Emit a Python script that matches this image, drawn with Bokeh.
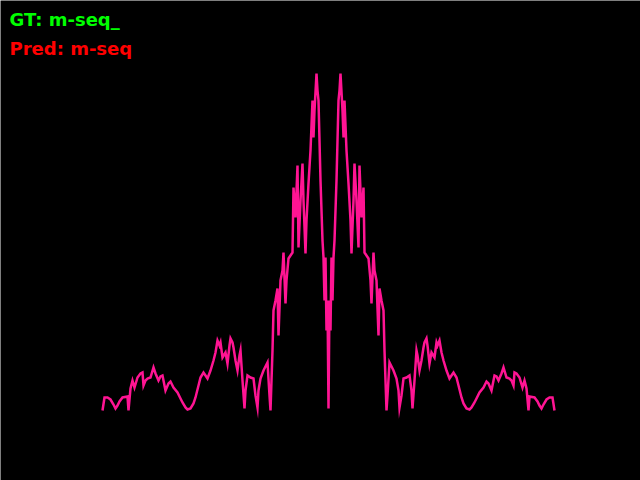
from bokeh.plotting import figure
from bokeh.models import Range1d, Label
from bokeh.embed import file_html
from bokeh.resources import INLINE

# frequency offset from centre (bins) and magnitude (arbitrary units)
freq = [-226, -224, -221, -218, -215, -213, -211, -209, -206, -201, -200, -198, -196, -194, -191, -188, -186, -185,
        -183, -181, -178, -175, -173, -170, -168, -166, -163, -160, -158, -155, -151, -148, -146, -143, -141, -138,
        -135, -133, -130, -128, -125, -123, -121, -118, -115, -113, -111, -109, -108, -106, -103, -101, -99, -98,
        -96, -95, -93, -91, -89, -88, -86, -84, -83, -81, -78, -75, -73, -71, -70, -68, -65, -61, -59, -58, -56,
        -55, -53, -51, -50, -48, -46, -45, -43, -42, -40, -38, -36, -35, -33, -31, -30, -28, -26, -25, -23, -22,
        -20, -18, -16, -15, -14, -12, -11, -10, -8, -6, -5, -4, -3, -2, -1, 0,
        1, 2, 3, 4, 5, 6, 8, 10, 11, 12, 14, 15, 16, 18, 20, 22, 23, 25, 26, 28, 30, 31, 33, 35, 36, 38, 40, 42,
        43, 45, 46, 48, 50, 51, 53, 55, 56, 58, 59, 61, 65, 68, 70, 71, 73, 75, 78, 81, 83, 84, 86, 88, 89, 91,
        93, 95, 96, 98, 99, 101, 103, 106, 108, 109, 111, 113, 115, 118, 121, 123, 125, 128, 130, 133, 135, 138,
        141, 143, 146, 148, 151, 155, 158, 160, 163, 166, 168, 170, 173, 175, 178, 181, 183, 185, 186, 188, 191,
        194, 196, 198, 200, 201, 206, 209, 211, 213, 215, 218, 221, 224, 226]
mag = [0, 13, 13, 11, 6, 2, 5, 9, 13, 14, 0, 22, 30, 23, 33, 37, 38, 25,
       30, 32, 33, 43, 37, 30, 34, 35, 20, 27, 29, 23, 18, 12, 8, 3, 1, 2,
       7, 13, 25, 33, 38, 35, 32, 40, 50, 58, 70, 65, 68, 53, 58, 47, 65, 72,
       68, 63, 50, 40, 55, 60, 30, 2, 20, 35, 33, 32, 15, 3, 20, 32, 40, 48, 15, 0, 60,
       100, 110, 122, 75, 130, 140, 158, 107, 130, 152, 155, 158, 223, 193, 245, 163, 210, 247, 210, 157, 190,
       227, 260, 310, 273, 300, 337, 320, 310, 230, 170, 153, 110, 153, 80, 110, 2,
       110, 80, 153, 110, 153, 170, 230, 310, 320, 337, 300, 273, 310, 260, 227, 190, 157, 210, 247, 210, 163, 245, 193, 223, 158, 155, 152, 130,
       107, 158, 140, 130, 75, 122, 110, 100, 60, 0, 15, 48, 40, 32, 20, 3, 15, 32, 33, 35, 20, 2, 30, 60, 55, 40,
       50, 63, 68, 72, 65, 47, 58, 53, 68, 65, 70, 58, 50, 40, 32, 35, 38, 33, 25, 13, 7, 2,
       1, 3, 8, 12, 18, 23, 29, 27, 20, 35, 34, 30, 37, 43, 33, 32, 30, 25, 38, 37, 33,
       23, 30, 22, 0, 14, 13, 9, 5, 2, 6, 11, 13, 13, 0]

gt_label = "GT: m-seq_"
pred_label = "Pred: m-seq"

p = figure(width=640, height=480, output_backend="svg", toolbar_location=None,
           x_range=Range1d(-328, 312), y_range=Range1d(-70, 410),
           min_border=0, min_border_left=0, min_border_right=0, min_border_top=0, min_border_bottom=0)
p.axis.visible = False
p.grid.visible = False
p.outline_line_color = None
p.background_fill_color = "black"
p.border_fill_color = "black"

p.line(freq, mag, line_color="#FF1493", line_width=2.5, line_join="miter")

p.add_layout(Label(x=9, y=461, x_units="screen", y_units="screen", text=gt_label,
                   text_color="#00FF00", text_font="DejaVu Sans", text_font_style="bold",
                   text_font_size="18px", text_baseline="alphabetic"))
p.add_layout(Label(x=9, y=432, x_units="screen", y_units="screen", text=pred_label,
                   text_color="#FF0000", text_font="DejaVu Sans", text_font_style="bold",
                   text_font_size="18px", text_baseline="alphabetic"))

open("out.html", "w").write(file_html(p, INLINE))
